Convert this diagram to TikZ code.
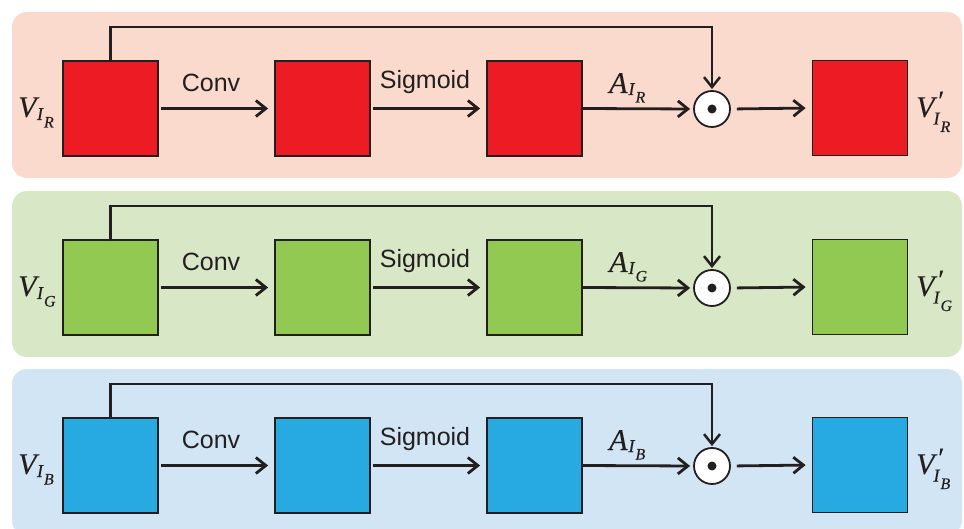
\documentclass[tikz,border=0pt]{standalone}
\usepackage{fontspec}
\setmainfont{Liberation Sans}
\newfontfamily\varfont[ItalicFeatures={FakeBold=0.25}]{Liberation Serif}
\usetikzlibrary{arrows.meta}

\definecolor{inkline}{HTML}{231F20}
\definecolor{redbg}{HTML}{FADACC}
\definecolor{redbox}{HTML}{ED1C24}
\definecolor{greenbg}{HTML}{D8E7C5}
\definecolor{greenbox}{HTML}{92C953}
\definecolor{bluebg}{HTML}{D2E5F5}
\definecolor{bluebox}{HTML}{27AAE2}

% subscript I with a second-level channel letter
\newcommand{\chansub}[2]{\raisebox{#1}{\fontsize{18}{20}\selectfont I\kern1pt\raisebox{-7.5pt}{\fontsize{16}{18}\selectfont #2}}}
% V_{I_c}
\newcommand{\vin}[1]{V\kern0.5pt\chansub{-3pt}{#1}}
% V'_{I_c}
\newcommand{\vout}[1]{V\rlap{\kern2pt\raisebox{7pt}{\fontsize{28}{30}\selectfont\symbol{"2032}}}\kern-1pt\chansub{-7.5pt}{#1}}
% A_{I_c}
\newcommand{\att}[1]{A\kern1pt\chansub{-2pt}{#1}}

\tikzset{
  panel/.style={rounded corners=15pt},
  feat/.style={draw=inkline, line width=1.8pt, minimum size=95pt, inner sep=0pt},
  mulnode/.style={circle, draw=inkline, line width=1.8pt, fill=white, minimum size=36pt, inner sep=0pt},
  flow/.style={draw=inkline, line width=2.8pt, -{Straight Barb[length=10pt,width=16pt]}},
  skip/.style={draw=inkline, line width=2.5pt, -{Straight Barb[length=10pt,width=16pt]}},
  oplabel/.style={font=\fontsize{25}{29}\selectfont, text=inkline},
  varlabel/.style={font=\fontsize{30}{34}\selectfont\varfont\itshape, text=inkline, inner sep=0pt, anchor=base west},
}

\begin{document}
\begin{tikzpicture}[x=1pt, y=-1pt]
  \useasboundingbox (0,0) rectangle (964,529);
  \foreach \ch/\bg/\bx/\off in {R/redbg/redbox/0, G/greenbg/greenbox/179, B/bluebg/bluebox/357} {
    \begin{scope}[shift={(0,\off)}]
      % background panel of the channel
      \fill[\bg, panel] (12,12) rectangle (962,178);
      % feature maps
      \node[feat, fill=\bx] (in\ch)   at (110.5,108.5) {};
      \node[feat, fill=\bx] (conv\ch) at (322.5,108.5) {};
      \node[feat, fill=\bx] (att\ch)  at (534.5,108.5) {};
      \node[feat, fill=\bx] (out\ch)  at (860,108) {};
      % element-wise product
      \node[mulnode] (mul\ch) at (712,109) {};
      \fill[inkline] (mul\ch.center) circle (4.5pt);
      % connectors
      \draw[flow, shorten <=2pt, shorten >=6pt] (in\ch.east) -- (conv\ch.west);
      \draw[flow, shorten <=2pt, shorten >=6pt] (conv\ch.east) -- (att\ch.west);
      \draw[flow, shorten <=0pt, shorten >=3pt] (att\ch.east) -- (mul\ch.west);
      \draw[flow, shorten <=6pt, shorten >=6pt] (mul\ch.east) -- (out\ch.west);
      \draw[skip, shorten >=1pt] (in\ch.north) -- ++(0,-33) -| (mul\ch.north);
      % labels
      \node[oplabel] (lconv\ch) at (211,83) {Conv};
      \node[oplabel] (lsig\ch)  at (425,82) {Sigmoid};
      \node[varlabel] (la\ch)   at (609,93)  {\att{\ch}};
      \node[varlabel] (lin\ch)  at (18,117)  {\vin{\ch}};
      \node[varlabel] (lout\ch) at (916,117) {\vout{\ch}};
    \end{scope}
  }
\end{tikzpicture}
\end{document}
